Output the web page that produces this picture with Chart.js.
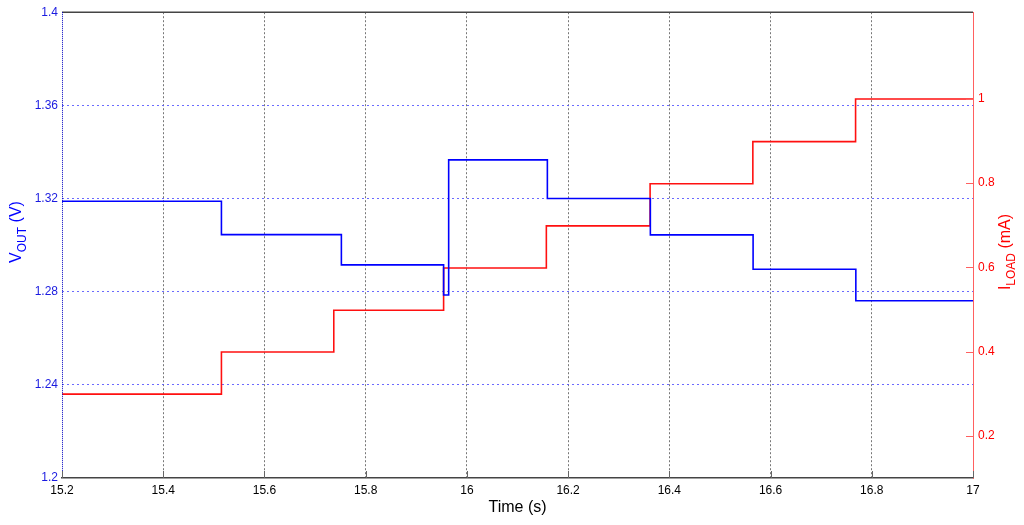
<!DOCTYPE html>
<html>
<head>
<meta charset="utf-8">
<script src="https://cdn.jsdelivr.net/npm/chart.js@4.4.1/dist/chart.umd.min.js"></script>
<style>
  body { margin: 0; background: #fff; }
  canvas { display: block; }
</style>
</head>
<body>
<canvas id="stepChart" width="1024" height="525"></canvas>
<script>
const ctx = document.getElementById("stepChart").getContext("2d")

// VOUT step levels (V), each level holds from edge[i] to edge[i+1]
const voutEdges = [15.2, 15.515, 15.752, 15.954, 15.964, 16.159, 16.3625, 16.5655, 16.7685, 17]
const voutLevels = [1.3188, 1.3045, 1.2915, 1.2786, 1.3366, 1.32, 1.3044, 1.2896, 1.2761]

// ILOAD step levels (mA)
const iloadEdges = [15.2, 15.515, 15.737, 15.954, 16.157, 16.362, 16.565, 16.768, 17]
const iloadLevels = [0.299, 0.399, 0.498, 0.598, 0.698, 0.798, 0.898, 0.999]

const rightTicks = [0.2, 0.4, 0.6, 0.8, 1]

function stepPoints(edges, levels) {
  const pts = []
  levels.forEach((v, i) => {
    pts.push({ x: edges[i], y: v })
    pts.push({ x: edges[i + 1], y: v })
  })
  return pts
}

// hide grid lines that sit on the frame
function innerGrid(color, lo, hi) {
  return (c) => {
    if (!c.tick) return color
    const v = c.tick.value
    return Math.abs(v - lo) < 1e-6 || Math.abs(v - hi) < 1e-6 ? "rgba(0,0,0,0)" : color
  }
}

const FONT = "'Liberation Sans', Arial, sans-serif"

const decorPlugin = {
  id: "decor",
  afterDraw(chart) {
    const { ctx, chartArea: { left, right, top, bottom }, scales } = chart
    ctx.save()
    // top frame
    ctx.strokeStyle = "#444"
    ctx.lineWidth = 1.5
    ctx.beginPath()
    ctx.moveTo(left, top)
    ctx.lineTo(right, top)
    ctx.stroke()
    ctx.lineWidth = 1
    // left axis dotted blue
    ctx.strokeStyle = "#0000c0"
    ctx.setLineDash([1, 1])
    ctx.beginPath()
    ctx.moveTo(left + 0.5, top)
    ctx.lineTo(left + 0.5, bottom)
    ctx.stroke()
    ctx.setLineDash([])
    // x tick marks
    ctx.strokeStyle = "#666"
    scales.x.ticks.forEach((t) => {
      const px = Math.round(scales.x.getPixelForValue(t.value)) + 0.5
      ctx.beginPath()
      ctx.moveTo(px, bottom)
      ctx.lineTo(px, bottom - 7)
      ctx.stroke()
    })
    // right axis tick marks
    ctx.strokeStyle = "#ff6060"
    rightTicks.forEach((v) => {
      const py = Math.round(scales.y1.getPixelForValue(v)) + 0.5
      ctx.beginPath()
      ctx.moveTo(right - 7, py)
      ctx.lineTo(right, py)
      ctx.stroke()
    })
    // axis titles
    ctx.textBaseline = "alphabetic"
    ctx.fillStyle = "#000"
    ctx.font = "16px " + FONT
    ctx.textAlign = "center"
    ctx.fillText("Time (s)", (left + right) / 2, 512)

    function vertTitle(x, y, main, sub, tail, color) {
      ctx.save()
      ctx.translate(x, y)
      ctx.rotate(-Math.PI / 2)
      ctx.fillStyle = color
      ctx.textAlign = "left"
      ctx.font = "16px " + FONT
      const w1 = ctx.measureText(main).width
      const w3 = ctx.measureText(tail).width
      ctx.font = "12px " + FONT
      const w2 = ctx.measureText(sub).width
      let cx = -(w1 + w2 + w3) / 2
      ctx.font = "16px " + FONT
      ctx.fillText(main, cx, 0)
      cx += w1
      ctx.font = "12px " + FONT
      ctx.fillText(sub, cx, 5)
      cx += w2
      ctx.font = "16px " + FONT
      ctx.fillText(tail, cx, 0)
      ctx.restore()
    }
    vertTitle(21, 232, "V", "OUT", " (V)", "#0000ff")
    vertTitle(1010, 252, "I", "LOAD", " (mA)", "#ff0000")
    ctx.restore()
  },
}

new Chart(ctx, {
  type: "line",
  data: {
    datasets: [
      {
        label: "VOUT",
        data: stepPoints(voutEdges, voutLevels),
        borderColor: "#0000ff",
        borderWidth: 1.6,
        pointRadius: 0,
        yAxisID: "y",
      },
      {
        label: "ILOAD",
        data: stepPoints(iloadEdges, iloadLevels),
        borderColor: "#ff1010",
        borderWidth: 1.6,
        pointRadius: 0,
        yAxisID: "y1",
      },
    ],
  },
  options: {
    responsive: false,
    animation: false,
    layout: { padding: { top: 10 } },
    plugins: {
      legend: { display: false },
      tooltip: { enabled: false },
    },
    scales: {
      x: {
        type: "linear",
        min: 15.2,
        max: 17,
        afterFit(scale) { scale.height = 47 },
        ticks: {
          stepSize: 0.2,
          color: "#000",
          padding: 5,
          maxRotation: 0,
          font: { size: 12, family: FONT },
          callback: (v) => String(Number(v.toFixed(1))),
        },
        grid: { color: innerGrid("#777", 15.2, 17), drawTicks: false },
        border: { color: "#444", width: 1.5, dash: [2, 2] },
      },
      y: {
        type: "linear",
        position: "left",
        min: 1.2,
        max: 1.4,
        afterFit(scale) { scale.width = 62 },
        ticks: {
          stepSize: 0.04,
          color: "#1a1ae0",
          padding: 4,
          font: { size: 12, family: FONT },
          callback: (v) => String(Number(v.toFixed(2))),
        },
        grid: { color: innerGrid("rgba(80,80,255,0.85)", 1.2, 1.4), drawTicks: false },
        border: { display: false, dash: [2, 3] },
      },
      y1: {
        type: "linear",
        position: "right",
        min: 0.1,
        max: 1.205,
        afterFit(scale) { scale.width = 51 },
        afterBuildTicks(scale) {
          scale.ticks = rightTicks.map((v) => ({ value: v }))
        },
        ticks: {
          color: "#ff0000",
          padding: 5,
          font: { size: 12, family: FONT },
          callback: (v) => String(v),
        },
        grid: { drawOnChartArea: false, drawTicks: false },
        border: { color: "#ff6060", width: 1 },
      },
    },
  },
  plugins: [decorPlugin],
})
</script>
</body>
</html>
